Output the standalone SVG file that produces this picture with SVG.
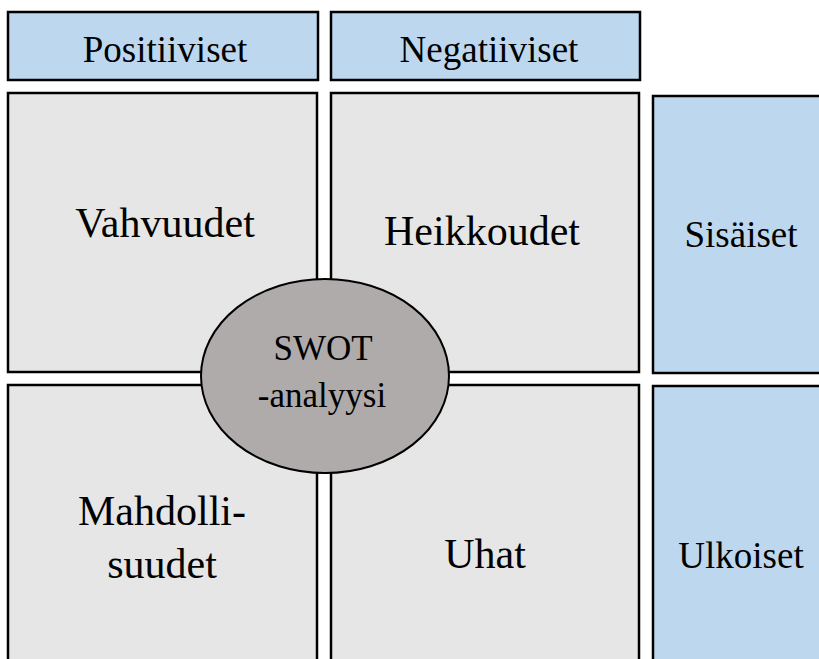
<svg xmlns="http://www.w3.org/2000/svg" width="819" height="659" viewBox="0 0 819 659">
<style>
.hdr{fill:#bdd7ee;stroke:#000;stroke-width:2.5}
.q{fill:#e6e6e6;stroke:#000;stroke-width:2.5}
text{font-family:'Liberation Serif','Times New Roman','DejaVu Serif',serif;fill:#000;text-anchor:middle}
.s37{font-size:37px}
.s42{font-size:42px}
.s35{font-size:35px}
</style>
<rect width="819" height="659" fill="#fff"/>
<g id="positiiviset"><rect class="hdr" x="8" y="12" width="310" height="68"/><text class="s37" x="165" y="62" font-family="Liberation Serif, serif">Positiiviset</text></g>
<g id="negatiiviset"><rect class="hdr" x="331" y="12" width="309" height="68"/><text class="s37" x="489" y="62" font-family="Liberation Serif, serif">Negatiiviset</text></g>
<g id="vahvuudet"><rect class="q" x="8" y="93" width="309" height="279"/><text class="s42" x="165" y="237" font-family="Liberation Serif, serif">Vahvuudet</text></g>
<g id="heikkoudet"><rect class="q" x="331" y="93" width="308" height="279"/><text class="s42" x="482" y="245" font-family="Liberation Serif, serif">Heikkoudet</text></g>
<g id="mahdollisuudet"><rect class="q" x="8" y="385" width="309" height="290"/><text class="s42" x="162" y="525" font-family="Liberation Serif, serif">Mahdolli-</text><text class="s42" x="162" y="578" font-family="Liberation Serif, serif">suudet</text></g>
<g id="uhat"><rect class="q" x="331" y="385" width="308" height="290"/><text class="s42" x="485" y="568" font-family="Liberation Serif, serif">Uhat</text></g>
<g id="sisaiset"><rect class="hdr" x="653" y="96" width="180" height="277"/><text class="s37" x="741" y="247" font-family="Liberation Serif, serif">Sisäiset</text></g>
<g id="ulkoiset"><rect class="hdr" x="653" y="386" width="180" height="290"/><text class="s37" x="741" y="568" font-family="Liberation Serif, serif">Ulkoiset</text></g>
<g id="swot"><ellipse cx="325" cy="376" rx="124" ry="97" fill="#afabab" stroke="#000" stroke-width="2"/><text class="s35" x="323" y="360" font-family="Liberation Serif, serif">SWOT</text><text class="s35" x="322" y="407" font-family="Liberation Serif, serif">-analyysi</text></g>
<g id="connectors"></g>
</svg>
